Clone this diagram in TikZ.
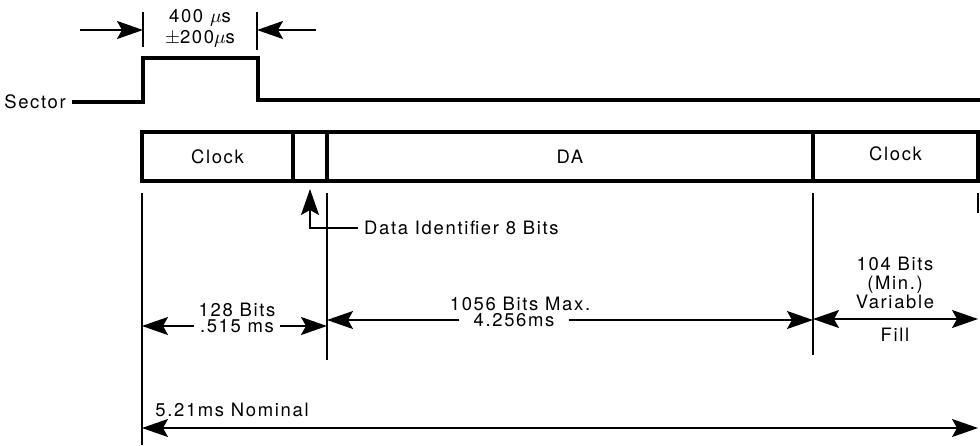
\documentclass[tikz,border=0pt]{standalone}
\usepackage{fontspec}
\setmainfont[LetterSpace=9]{TeX Gyre Heros}
\usetikzlibrary{arrows.meta, positioning}

\begin{document}
\begin{tikzpicture}[x=0.2mm, y=-0.2mm,
    lbl/.style={font=\fontsize{10.5}{11}\selectfont, align=center},
    field/.style={draw, line width=1.8pt, minimum height=9.8mm, outer sep=0pt, inner sep=0pt, font=\fontsize{10.5}{11}\selectfont},
    sig/.style={line width=1.8pt},
    ext/.style={line width=1pt},
    dim/.style={line width=1pt, -{Stealth[length=5.2mm,width=3.6mm,inset=1mm]}},
    dimboth/.style={line width=1pt, {Stealth[length=5.2mm,width=3.6mm,inset=1mm]}-{Stealth[length=5.2mm,width=3.6mm,inset=1mm]}}
]
\useasboundingbox (0,0) rectangle (980,445);

% sector pulse
\node[lbl, anchor=east] (sector) at (72,102) {Sector};
\coordinate (up) at (143,58);
\coordinate (dn) at (258,58);
\draw[sig] (sector.east) -- (up |- sector.east) -- (up) -- (dn) |- (980,100);

\coordinate (tka) at (143,30);
\coordinate (tkb) at (257,30);
\coordinate (pwl) at (80,30);
\coordinate (pwr) at (316,30);
\draw[ext] (143,12) -- (143,47);
\draw[ext] (257,12) -- (257,50);
\node[lbl] (pw) at (200,18) {400 $\mu$s};
\node[lbl] (pwtol) at (200,39) {$\pm$200$\mu$s};
\draw[dim] (pwl) -- (tka);
\draw[dim] (pwr) -- (tkb);

% record fields
\node[field, minimum width=30.2mm, anchor=north west] (clock1) at (142,132) {Clock};
\node[field, minimum width=6.8mm, right=0pt of clock1] (ident) {};
\node[field, minimum width=97.2mm, right=0pt of ident] (da) {DA};
\node[field, minimum width=33mm, right=0pt of da] (clock2) {\raisebox{1mm}{Clock}};

% extension lines
\coordinate (e1) at ([yshift=-2.4mm]clock1.south west);
\coordinate (e2) at ([yshift=-2.4mm]da.south west);
\coordinate (e3) at ([yshift=-2.4mm]clock2.south west);
\coordinate (e4) at ([yshift=-2.4mm]clock2.south east);
\draw[ext] (e1) -- ++(0,252);
\draw[ext] (e2) -- ++(0,167);
\draw[ext] (e3) -- ++(0,162);
\draw[ext] (e4) -- ++(0,20);

% data identifier
\node[lbl, anchor=west] (dataid) at (358,228) {Data Identifier 8 Bits};
\draw[dim, shorten >=1.6mm] (dataid.west) -| (ident.south);

% lengths
\node[lbl] (t128) at (237,310) {128 Bits};
\node[lbl] (s515) at (237,326) {.515 ms};
\draw[dim] (s515.west) -- (e1 |- s515.west);
\draw[dim] (s515.east) -- (e2 |- s515.east);

\node[lbl] (t1056) at (520,304) {1056 Bits Max.};
\node[lbl, inner xsep=2.8mm] (s4256) at (514,320) {4.256ms};
\draw[dim] (s4256.west) -- (e2 |- s4256.west);
\draw[dim] (s4256.east) -- (e3 |- s4256.east);

\node[lbl] (t104) at (895,283) {104 Bits\\(Min.)\\Variable};
\node[lbl] (fill) at (895,335) {Fill};
\coordinate (a104) at (895,319);
\draw[dimboth] (e3 |- a104) -- (e4 |- a104);

\node[lbl] (nom) at (232,410) {5.21ms Nominal};
\coordinate (anom) at (560,428);
\draw[dimboth] (e1 |- anom) -- (e4 |- anom);

\end{tikzpicture}
\end{document}
